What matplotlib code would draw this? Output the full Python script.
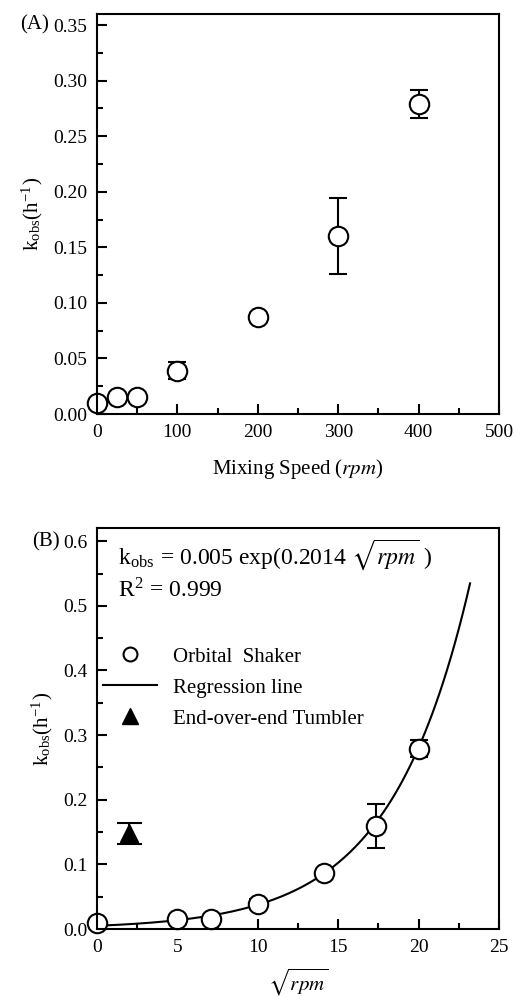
import numpy as np
import matplotlib
matplotlib.use('Agg')
import matplotlib.pyplot as plt
from matplotlib.ticker import MultipleLocator, FormatStrFormatter
from matplotlib.lines import Line2D

plt.rcParams['font.family'] = ['Liberation Serif', 'DejaVu Serif']
plt.rcParams['mathtext.fontset'] = 'stix'

# datos
rpm = np.array([0, 25, 50, 100, 200, 300, 400])
kobs = np.array([0.010, 0.015, 0.015, 0.039, 0.087, 0.160, 0.279])
kobs_err = np.array([0.0, 0.0, 0.0, 0.0075, 0.004, 0.034, 0.013])

# tumbler (end-over-end), graficado en sqrt(rpm)=2
tumbler_x = [2.0]
tumbler_y = [0.148]
tumbler_err = [0.016]

# regresion del grafico: k = a*exp(b*sqrt(rpm))
a_reg = 0.005
b_reg = 0.2014
x_reg_max = 23.2

fig = plt.figure(figsize=(5.15, 9.97), dpi=100)
axA = fig.add_axes([97/515, 1-414/997, 402/515, 400/997])
axB = fig.add_axes([97/515, 1-929/997, 402/515, 400.7/997])

lw = 1.5
for ax in (axA, axB):
	for s in ['top', 'right', 'left', 'bottom']:
		ax.spines[s].set_linewidth(lw)
	ax.tick_params(which='both', direction='in', top=False, right=False, width=lw, labelsize=14, pad=7)
	ax.tick_params(which='major', length=7)
	ax.tick_params(which='minor', length=4.5)

estilo = dict(fmt='o', mfc='white', mec='black', ms=14, mew=1.5, ecolor='black',
	elinewidth=1.5, capsize=6.5, capthick=1.5, clip_on=False)

# (A)
axA.errorbar(rpm, kobs, yerr=kobs_err, **estilo)
axA.set_xlim(0, 500)
axA.set_ylim(0, 0.36)
axA.xaxis.set_major_locator(MultipleLocator(100))
axA.xaxis.set_minor_locator(MultipleLocator(50))
axA.yaxis.set_major_locator(MultipleLocator(0.05))
axA.yaxis.set_minor_locator(MultipleLocator(0.025))
axA.yaxis.set_major_formatter(FormatStrFormatter('%.2f'))
axA.set_xlabel('Mixing Speed ($\\it{rpm}$)', fontsize=15, labelpad=12)
axA.set_ylabel('k$_\\mathregular{obs}$(h$^\\mathregular{-1}$)', fontsize=15, labelpad=6)
fig.text(49/515, 1-25/997, '(A)', fontsize=15, ha='right', va='center')

# (B)
sq = np.sqrt(rpm)
xr = np.linspace(0, x_reg_max, 200)
axB.plot(xr, a_reg*np.exp(b_reg*xr), color='black', lw=1.5)
axB.errorbar(sq, kobs, yerr=kobs_err, **estilo)
axB.errorbar(tumbler_x, tumbler_y, yerr=tumbler_err, fmt='^', mfc='black', mec='black', ms=13,
	ecolor='black', elinewidth=1.5, capsize=9, capthick=1.5)
axB.set_xlim(0, 25)
axB.set_ylim(0, 0.62)
axB.xaxis.set_major_locator(MultipleLocator(5))
axB.xaxis.set_minor_locator(MultipleLocator(2.5))
axB.yaxis.set_major_locator(MultipleLocator(0.1))
axB.yaxis.set_minor_locator(MultipleLocator(0.05))
axB.yaxis.set_major_formatter(FormatStrFormatter('%.1f'))
axB.set_xlabel('$\\sqrt{rpm}$', fontsize=15, labelpad=8)
axB.set_ylabel('k$_\\mathregular{obs}$(h$^\\mathregular{-1}$)', fontsize=15, labelpad=6)
fig.text(60/515, 1-541.7/997, '(B)', fontsize=15, ha='right', va='center')

axB.text((118-97)/402, 1-(555-528.3)/400.7, 'k$_\\mathregular{obs}$ = 0.005 exp(0.2014 $\\sqrt{rpm}$ )',
	transform=axB.transAxes, fontsize=17, ha='left', va='center')
axB.text((118-97)/402, 1-(590-528.3)/400.7, 'R$^\\mathregular{2}$ = 0.999',
	transform=axB.transAxes, fontsize=17, ha='left', va='center')

h1 = Line2D([], [], ls='none', marker='o', mfc='white', mec='black', ms=10, mew=1.5)
h2 = Line2D([], [], color='black', lw=1.5)
h3 = Line2D([], [], ls='none', marker='^', mfc='black', mec='black', ms=11)
axB.legend([h1, h2, h3], ['Orbital  Shaker', 'Regression line', 'End-over-end Tumbler'],
	loc='upper left', bbox_to_anchor=((103-97)/402, (929-647)/400.7), frameon=False,
	fontsize=15, handlelength=2.6, handletextpad=0.75, borderpad=0, borderaxespad=0,
	labelspacing=0.55)

fig.savefig('out.png', dpi=100)
